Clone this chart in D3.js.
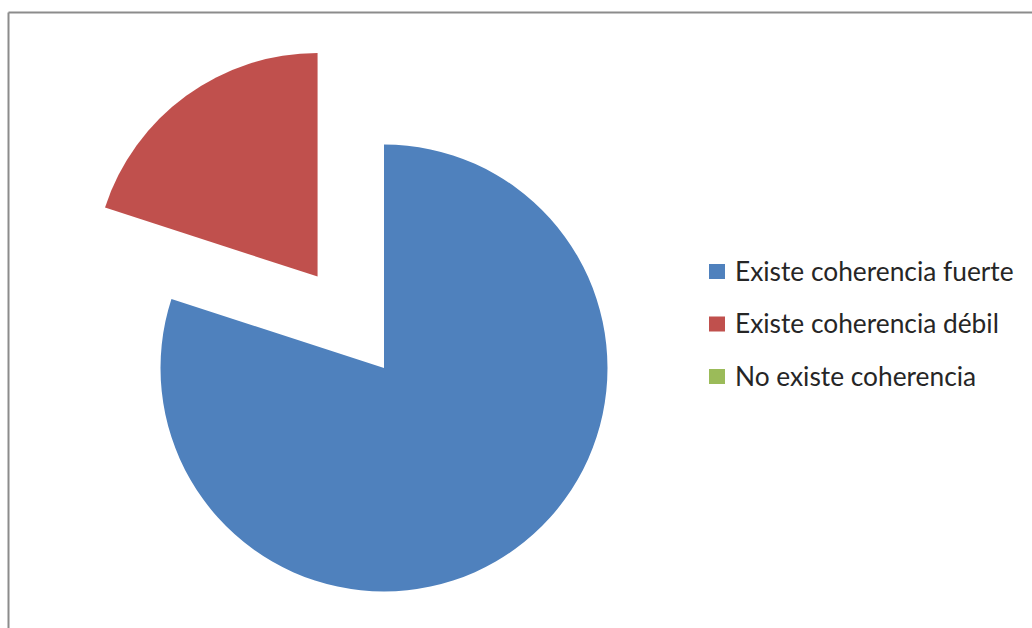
<!DOCTYPE html>
<html><head><meta charset="utf-8">
<script src="https://cdn.jsdelivr.net/npm/d3@7"></script>
<style>body{margin:0;background:#fff}svg{display:block}</style>
</head><body>
<svg id="c" width="1032" height="628"></svg>
<script>
const categories = ["Existe coherencia fuerte", "Existe coherencia débil", "No existe coherencia"];
const values = [80, 20, 0];
const colors = ["#4F81BD", "#C0504D", "#9BBB59"];
const explode = [0, 113, 0];

const svg = d3.select("#c");
// frame (top and left edges visible)
svg.append("line").attr("x1", 8.5).attr("y1", 12.5).attr("x2", 1032).attr("y2", 12.5).attr("stroke", "#8c8c8c").attr("stroke-width", 2);
svg.append("line").attr("x1", 8.5).attr("y1", 12.5).attr("x2", 8.5).attr("y2", 628).attr("stroke", "#8c8c8c").attr("stroke-width", 2);

const cx = 384, cy = 368, r = 223.5;
const pie = d3.pie().sort(null).value(d => d)(values);
const arc = d3.arc().innerRadius(0).outerRadius(r);
const g = svg.append("g").attr("transform", `translate(${cx},${cy})`);
g.selectAll("path").data(pie).join("path")
  .attr("d", arc)
  .attr("fill", (d, i) => colors[i])
  .attr("transform", (d, i) => {
    const a = (d.startAngle + d.endAngle) / 2;
    return `translate(${Math.sin(a) * explode[i]},${-Math.cos(a) * explode[i]})`;
  });

const lg = svg.append("g").attr("transform", "translate(709,271.5)");
const rows = lg.selectAll("g").data(categories).join("g").attr("transform", (d, i) => `translate(0,${i * 52.5})`);
rows.append("rect").attr("x", 0).attr("y", -7.5).attr("width", 16).attr("height", 15).attr("fill", (d, i) => colors[i]);
rows.append("text").attr("x", 26).attr("y", 0).attr("dy", "0.36em")
  .attr("font-family", "Lato, 'Open Sans', sans-serif").attr("font-size", 26.3).attr("fill", "#262626")
  .text(d => d);
</script>
</body></html>
